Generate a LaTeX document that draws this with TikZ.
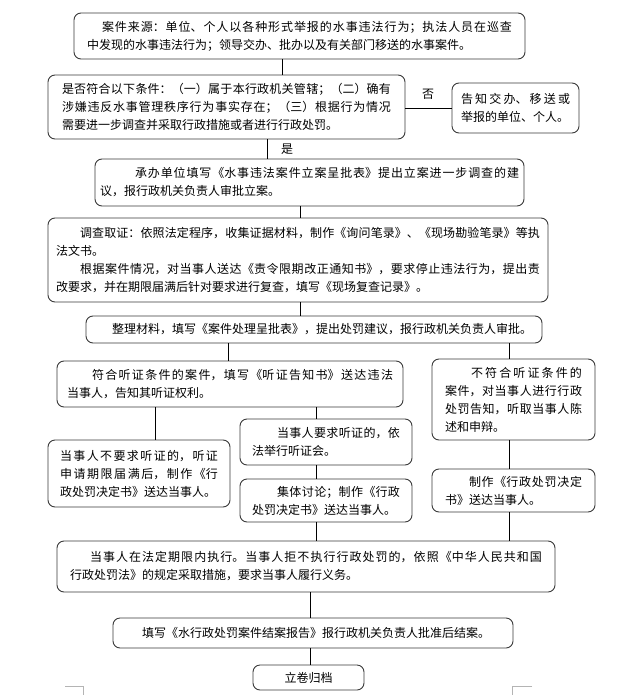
\documentclass[tikz,border=0pt]{standalone}
\usepackage{fontspec}
\setmainfont{Noto Sans CJK SC}
\XeTeXlinebreaklocale "zh"
\XeTeXlinebreakskip = 0pt plus 3pt
\definecolor{boxLine}{HTML}{3A3A3A}
\definecolor{markGrey}{HTML}{B4B4B4}
\tikzset{
  stepbox/.style  = {draw=boxLine, line width=0.9pt, rounded corners=7pt,
                     align=justify, inner ysep=2pt,
                     font=\fontsize{12}{18}\selectfont},
  link/.style     = {black, line width=0.8pt},
  yesno/.style    = {font=\fontsize{12}{14}\selectfont, inner sep=1pt},
  cropmark/.style = {markGrey, line width=0.6pt},
}

\begin{document}
\begin{tikzpicture}[x=1pt, y=-1pt]
  \path[use as bounding box, fill=white] (0,0) rectangle (619,695);
  % columns of the vertical connectors
  \coordinate (k1) at (282,0);
  \coordinate (k2) at (267,0);
  \coordinate (k3) at (300,0);
  \coordinate (k5) at (228,0);
  \coordinate (k6) at (509,0);
  \coordinate (k7) at (155,0);
  \coordinate (k8) at (316,0);
  \coordinate (k9) at (310,0);
  % main column
  \node[stepbox, text width=425pt, minimum width=451pt, minimum height=46pt, inner xsep=13pt] (source) at (299.5,36)
    {\hspace*{15pt}案件来源：单位、个人以各种形式举报的水事违法行为；执法人员在巡查\linebreak 中发现的水事违法行为；领导交办、批办以及有关部门移送的水事案件。};
  \node[stepbox, text width=329pt, minimum width=357pt, minimum height=64pt, inner xsep=14pt] (check) at (226.5,107)
    {是否符合以下条件：（一）属于本行政机关管辖；（二）确有\linebreak 涉嫌违反水事管理秩序行为事实存在；（三）根据行为情况\linebreak 需要进一步调查并采取行政措施或者进行行政处罚。};
  \node[stepbox, text width=109pt, minimum width=127pt, minimum height=50pt, inner xsep=9pt] (inform) at (515.5,108)
    {告知交办、移送或\linebreak 举报的单位、个人。};
  \node[stepbox, text width=419pt, minimum width=429pt, minimum height=47pt, inner xsep=5pt] (filing) at (309.5,182.5)
    {\hspace*{35pt}承办单位填写《水事违法案件立案呈批表》提出立案进一步调查的建\linebreak 议，报行政机关负责人审批立案。};
  \node[stepbox, text width=484pt, minimum width=500pt, minimum height=84pt, inner xsep=8pt] (investigate) at (298,260)
    {\hspace*{24pt}调查取证：依照法定程序，收集证据材料，制作《询问笔录》、《现场勘验笔录》等执\linebreak 法文书。\\\hspace*{24pt}根据案件情况，对当事人送达《责令限期改正通知书》，要求停止违法行为，提出责\linebreak 改要求，并在期限届满后针对要求进行复查，填写《现场复查记录》。};
  \node[stepbox, text width=440pt, minimum width=456pt, minimum height=27pt, inner xsep=8pt] (review) at (314,329.5)
    {\hspace*{18pt}整理材料，填写《案件处理呈批表》，提出处罚建议，报行政机关负责人审批。};
  % hearing branch
  \node[stepbox, text width=326pt, minimum width=346pt, minimum height=46pt, inner xsep=10pt] (hearing) at (230,384)
    {\hspace*{25pt}符合听证条件的案件，填写《听证告知书》送达违法\linebreak 当事人，告知其听证权利。};
  \node[stepbox, text width=158pt, minimum width=182pt, minimum height=67pt, inner xsep=12pt] (nohear) at (139,473.5)
    {当事人不要求听证的，听证\linebreak 申请期限届满后，制作《行\linebreak 政处罚决定书》送达当事人。};
  \node[stepbox, text width=148pt, minimum width=172pt, minimum height=46pt, inner xsep=12pt] (dohear) at (326,442)
    {\hspace*{25pt}当事人要求听证的，依\linebreak 法举行听证会。};
  \node[stepbox, text width=148pt, minimum width=172pt, minimum height=43pt, inner xsep=12pt] (discuss) at (326,500.5)
    {\hspace*{25pt}集体讨论；制作《行政\linebreak 处罚决定书》送达当事人。};
  % no hearing branch
  \node[stepbox, text width=137pt, minimum width=163pt, minimum height=81pt, inner xsep=13pt] (nocond) at (513.5,399.5)
    {\hspace*{26pt}不符合听证条件的\linebreak 案件，对当事人进行行政\linebreak 处罚告知，听取当事人陈\linebreak 述和申辩。};
  \node[stepbox, text width=137pt, minimum width=163pt, minimum height=43pt, inner xsep=13pt] (decide) at (513.5,490.5)
    {\hspace*{24pt}制作《行政处罚决定\linebreak 书》送达当事人。};
  % closing steps
  \node[stepbox, text width=472pt, minimum width=498pt, minimum height=51pt, inner xsep=13pt] (execute) at (306,566.5)
    {\hspace*{20pt}当事人在法定期限内执行。当事人拒不执行行政处罚的，依照《中华人民共和国\linebreak 行政处罚法》的规定采取措施，要求当事人履行义务。};
  \node[stepbox, text width=380pt, minimum width=400pt, minimum height=30pt, inner xsep=10pt] (close) at (313,633)
    {\hspace*{19pt}填写《水行政处罚案件结案报告》报行政机关负责人批准后结案。};
  \node[stepbox, align=center, minimum width=111pt, minimum height=25pt] (archive) at (308.5,677.5) {立卷归档};
  % decision labels
  \node[yesno] (no) at (428,94) {否};
  \node[yesno] (yes) at (287,149) {是};
  % connectors
  \draw[link] (source.south -| k1) -- (check.north -| k1);
  \draw[link] (check.east |- inform.west) -- (inform.west);
  \draw[link] (check.south -| k2) -- (filing.north -| k2);
  \draw[link] (filing.south -| k3) -- (investigate.north -| k3);
  \draw[link] (investigate.south -| k3) -- (review.north -| k3);
  \draw[link] (review.south -| k5) -- (hearing.north -| k5);
  \draw[link] (review.south -| k6) -- (nocond.north -| k6);
  \draw[link] (hearing.south -| k7) -- (nohear.north -| k7);
  \draw[link] (hearing.south -| k8) -- (dohear.north -| k8);
  \draw[link] (dohear.south -| k8) -- (discuss.north -| k8);
  \draw[link] (discuss.south -| k8) -- (execute.north -| k8);
  \draw[link] (nocond.south -| k6) -- (decide.north -| k6);
  \draw[link] (decide.south -| k6) -- (execute.north -| k6);
  \draw[link] (execute.south -| k9) -- (close.north -| k9);
  \draw[link] (close.south -| k9) -- (archive.north -| k9);
  % page corner marks
  \draw[cropmark] (65,686) -- (83,686) -- (83,695);
  \draw[cropmark] (532,686) -- (512,686) -- (512,695);
\end{tikzpicture}
\end{document}
